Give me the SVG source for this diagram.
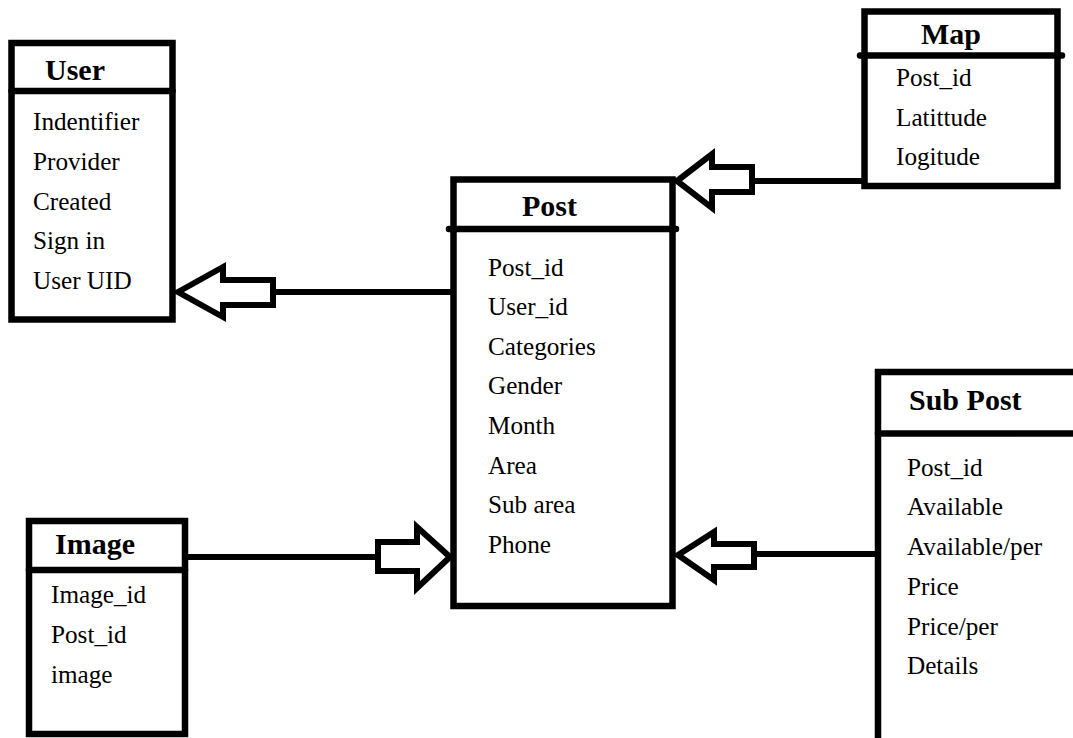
<svg xmlns="http://www.w3.org/2000/svg" width="1073" height="738" viewBox="0 0 1073 738">
<style>
.box{fill:#fff;stroke:#000;stroke-width:6.5}
.div{stroke:#000;stroke-width:6.5;stroke-linecap:round}
.title{font-family:'Liberation Serif','Tinos','DejaVu Serif',serif;font-weight:bold;font-size:30px;fill:#000}
.attr{font-family:'Liberation Serif','Tinos','DejaVu Serif',serif;font-size:25.2px;fill:#000}
.conn{stroke:#000;stroke-width:6;fill:none}
.arrow{stroke:#000;stroke-width:6;fill:#fff;stroke-linejoin:miter}
</style>
<rect width="1073" height="738" fill="#fff"/>
<g id="connectors">
<line class="conn" x1="273" y1="292" x2="453" y2="292"/>
<polygon class="arrow" points="178,292 223,267 223,280 273,280 273,305 223,305 223,317"/>
<line class="conn" x1="752" y1="181" x2="865" y2="181"/>
<polygon class="arrow" points="677,181 712,154 712,167 752,167 752,192 712,192 712,208"/>
<line class="conn" x1="185" y1="557" x2="378" y2="557"/>
<polygon class="arrow" points="450,557 417,527 417,542 378,542 378,571 417,571 417,588"/>
<line class="conn" x1="754" y1="554" x2="878" y2="554"/>
<polygon class="arrow" points="678,555 714,532 714,544 754,544 754,567 714,567 714,580"/>
</g>
<g id="user">
<rect class="box" x="11.5" y="43" width="161" height="276.5"/>
<line class="div" x1="11.5" y1="91" x2="172.5" y2="91"/>
<text class="title" x="45" y="80">User</text>
<text class="attr" x="33" y="130">Indentifier</text>
<text class="attr" x="33" y="170">Provider</text>
<text class="attr" x="33" y="210">Created</text>
<text class="attr" x="33" y="249">Sign in</text>
<text class="attr" x="33" y="289">User UID</text>
</g>
<g id="map">
<rect class="box" x="864.5" y="11.5" width="193" height="174.5"/>
<line class="div" x1="860" y1="55.5" x2="1062" y2="55.5"/>
<text class="title" x="921" y="44">Map</text>
<text class="attr" x="896" y="86">Post_id</text>
<text class="attr" x="896" y="126">Latittude</text>
<text class="attr" x="896" y="165">Iogitude</text>
</g>
<g id="post">
<rect class="box" x="453.5" y="179.5" width="219" height="426.5"/>
<line class="div" x1="449" y1="229" x2="676" y2="229"/>
<text class="title" x="522" y="216">Post</text>
<text class="attr" x="488" y="276">Post_id</text>
<text class="attr" x="488" y="315">User_id</text>
<text class="attr" x="488" y="355">Categories</text>
<text class="attr" x="488" y="394">Gender</text>
<text class="attr" x="488" y="434">Month</text>
<text class="attr" x="488" y="474">Area</text>
<text class="attr" x="488" y="513">Sub area</text>
<text class="attr" x="488" y="553">Phone</text>
</g>
<g id="image">
<rect class="box" x="29" y="521" width="156" height="213"/>
<line class="div" x1="29" y1="570" x2="185" y2="570"/>
<text class="title" x="55" y="554">Image</text>
<text class="attr" x="51" y="603">Image_id</text>
<text class="attr" x="51" y="643">Post_id</text>
<text class="attr" x="51" y="683">image</text>
</g>
<g id="subpost">
<rect class="box" x="878" y="372" width="300" height="400"/>
<line class="div" x1="878" y1="433.5" x2="1080" y2="433.5"/>
<text class="title" x="909" y="410">Sub Post</text>
<text class="attr" x="907" y="476">Post_id</text>
<text class="attr" x="907" y="515">Available</text>
<text class="attr" x="907" y="555">Available/per</text>
<text class="attr" x="907" y="595">Price</text>
<text class="attr" x="907" y="635">Price/per</text>
<text class="attr" x="907" y="674">Details</text>
</g>
</svg>
